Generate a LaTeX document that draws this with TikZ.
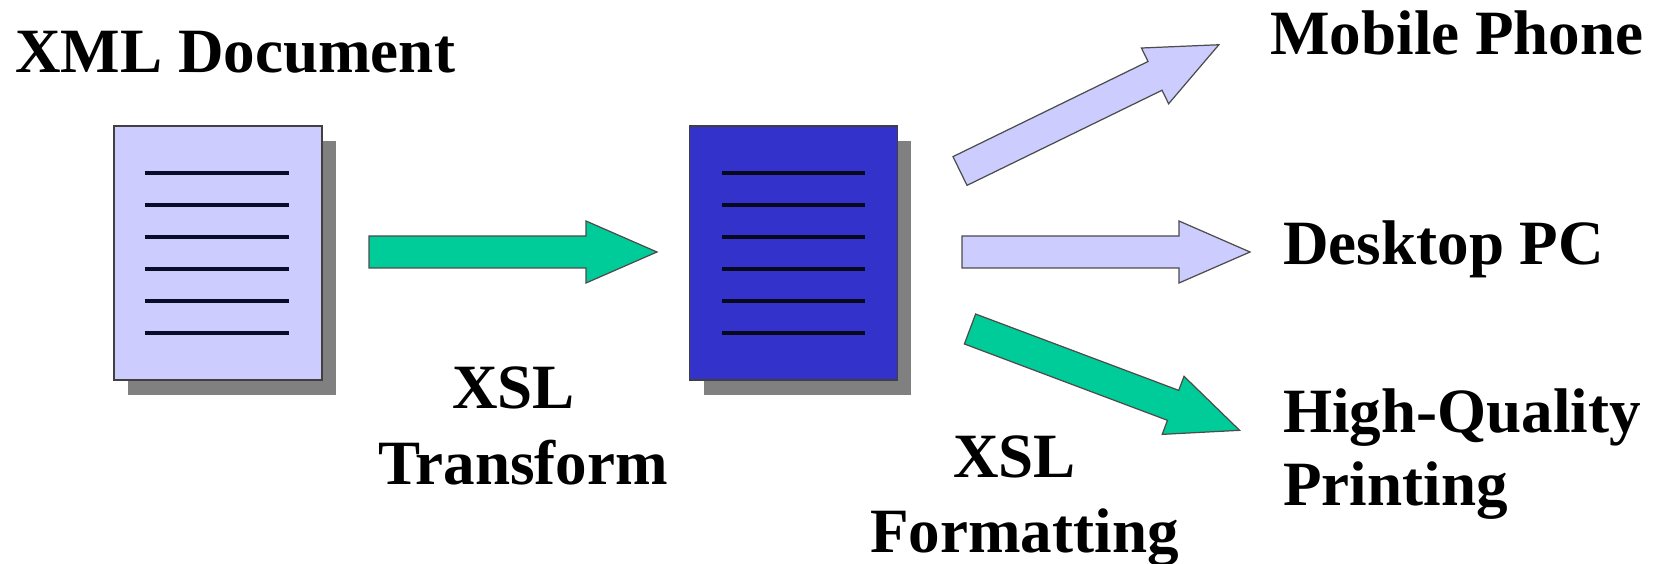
\documentclass[tikz,border=0pt]{standalone}
\usepackage{fontspec}
\setmainfont{Liberation Serif}
\usetikzlibrary{shadows}
\definecolor{doc lavender}{HTML}{CCCCFF}
\definecolor{doc blue}{HTML}{3333CC}
\definecolor{arrow green}{HTML}{00CC99}
\definecolor{shadow gray}{HTML}{808080}
\tikzset{
  page/.style={draw=black!75, line width=0.8pt, minimum width=4.16cm,
    minimum height=5.08cm, inner sep=0pt,
    drop shadow={shadow xshift=0.28cm, shadow yshift=-0.3cm, fill=shadow gray, opacity=1}},
  page line/.style={line width=2.3pt},
  label text/.style={font=\bfseries\fontsize{35.9}{43}\selectfont, inner sep=0pt, anchor=base west},
  pics/block arrow/.style={code={
    \draw[fill=#1, draw=black!70, line width=0.7pt, line join=miter]
      (0,-16) -- (217,-16) -- (217,-31) -- (288,0) -- (217,31) -- (217,16) -- (0,16) -- cycle;
  }}
}
\begin{document}
\begin{tikzpicture}[x=0.02cm, y=-0.02cm]
			\useasboundingbox (0,0) rectangle (1653,564);
			% documents
			\node[page, fill=doc lavender] (xml) at (218,253) {};
			\node[page, fill=doc blue] (fo) at (793.5,253) {};
			\foreach \y in {173,205,...,333} {
				\draw[page line, color=black!80!doc blue] (145,\y) -- (289,\y);
				\draw[page line, color=black!85!doc blue] (722,\y) -- (865,\y);
			}
			% arrows
			\pic at (369,252) {block arrow=arrow green};
			\pic at (962,252) {block arrow=doc lavender};
			\pic[rotate=26] at (960,171) {block arrow=doc lavender};
			\pic[rotate=-20.6] at (970,329) {block arrow=arrow green};
			% labels
			\node[label text] (xmltitle) at (15,73) {XML Document};
			\node[label text] (xsltop) at (452,408) {XSL};
			\node[label text] (transform) at (378,484) {Transform};
			\node[label text] (fotop) at (953,477) {XSL};
			\node[label text] (formatting) at (870,552) {Formatting};
			\node[label text] (mobile) at (1270,55) {Mobile Phone};
			\node[label text] (desktop) at (1283,265) {Desktop PC};
			\node[label text] (quality) at (1283,432) {High-Quality};
			\node[label text] (printing) at (1283,505) {Printing};
		\end{tikzpicture}
\end{document}
